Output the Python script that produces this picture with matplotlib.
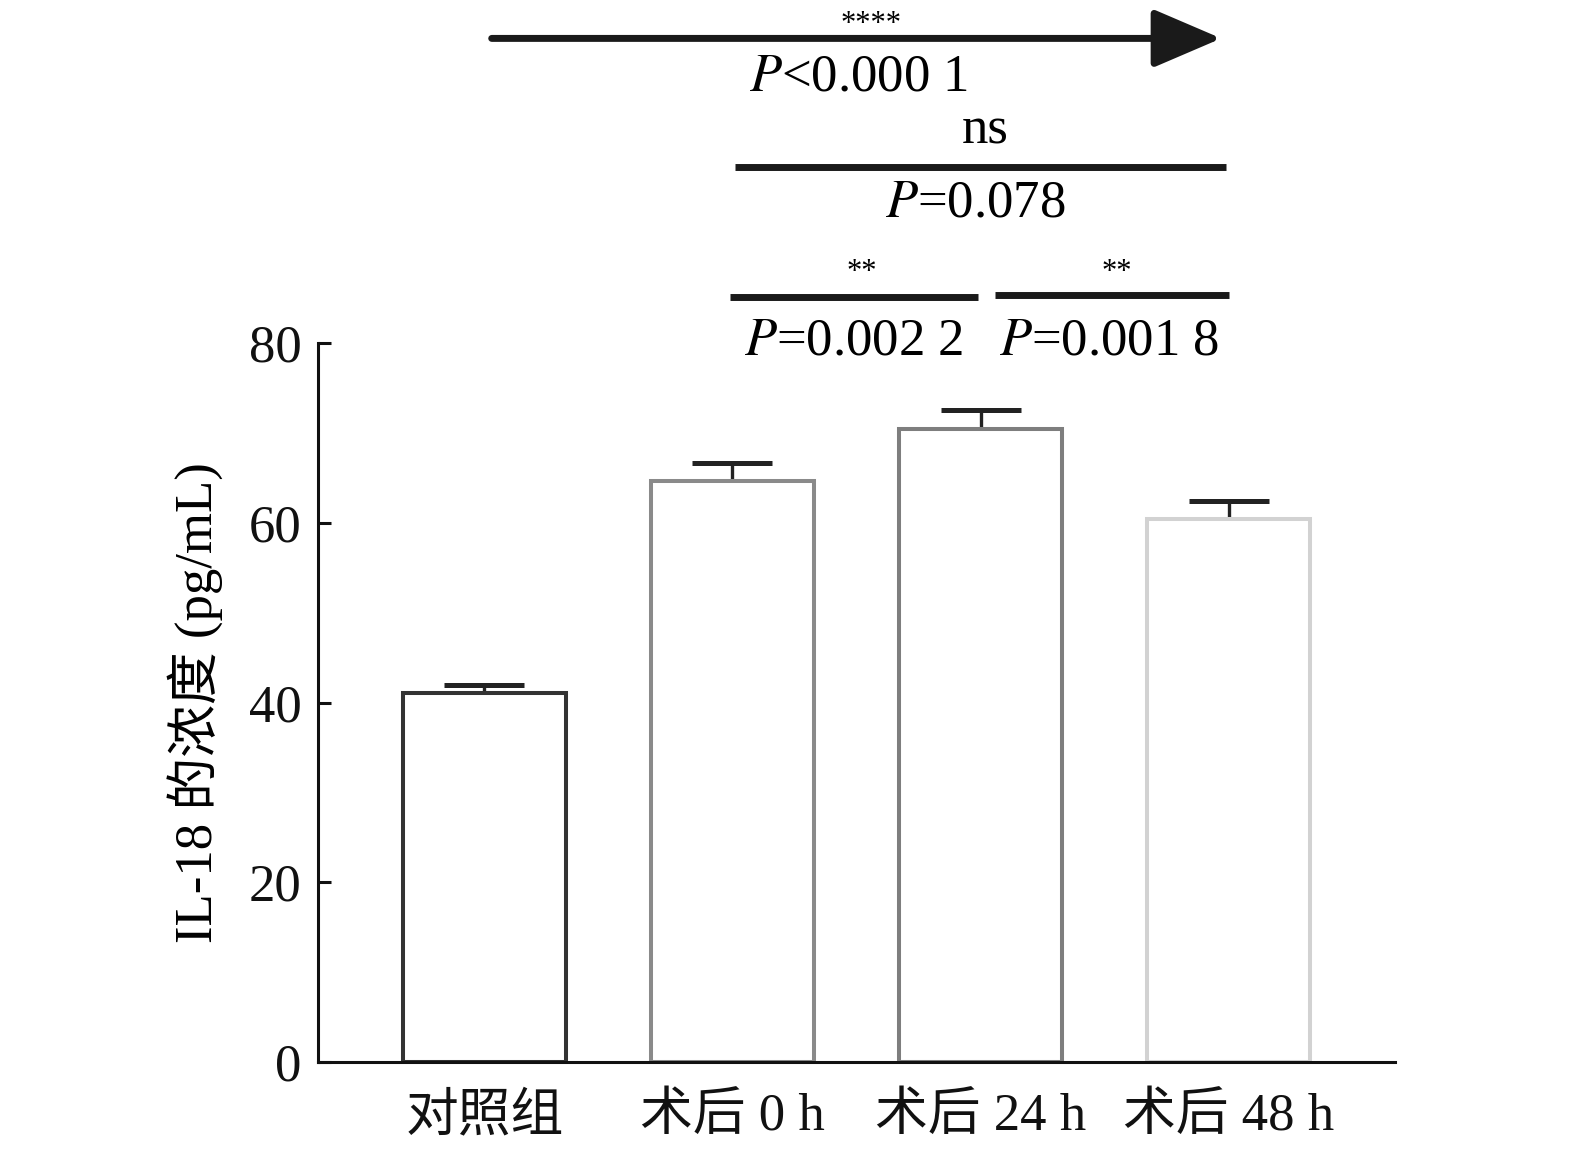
import numpy as np
import matplotlib
matplotlib.use('Agg')
import matplotlib.pyplot as plt
import matplotlib as mpl

# Configurations
mpl.rcParams['font.family'] = ['Liberation Serif', 'Noto Sans CJK SC']
mpl.rcParams['font.size'] = 38
mpl.rcParams['mathtext.fontset'] = 'stix'

###################### data ##################################
groups = ['对照组', '术后 0 h', '术后 24 h', '术后 48 h']
means = [41.1, 64.7, 70.4, 60.4]
sem = [0.8, 1.9, 2.1, 2.0]
edge_colors = ['#333333', '#8a8a8a', '#7e7e7e', '#d2d2d2']
yticks = [0, 20, 40, 60, 80]

# comparisons: (from, to, stars, p label)
comparisons = [
    (0, 3, '****', r'$P$<0.000 1'),
    (1, 3, 'ns', r'$P$=0.078'),
    (1, 2, '**', r'$P$=0.002 2'),
    (2, 3, '**', r'$P$=0.001 8'),
]

###################### plot ##################################
fig = plt.figure(figsize=(15.75, 11.52), dpi=100)
ax = fig.add_axes([0.2019, 0.0781, 0.6838, 0.6241])
x = np.arange(len(groups))

ax.errorbar(x, means, yerr=[np.zeros(len(sem)), sem], fmt='none',
            ecolor='#222222', elinewidth=2.4, capsize=29, capthick=3.6,
            zorder=1)
ax.bar(x, means, width=0.657, color='white', edgecolor=edge_colors,
       linewidth=2.9, zorder=2)

ax.set_xlim(-0.67, 3.67)
ax.set_ylim(0, 80)
ax.set_yticks(yticks)
ax.set_xticks(x)
ax.set_xticklabels(groups)
ax.set_ylabel('IL-18 的浓度 (pg/mL)', labelpad=18)
for s in ['top', 'right']:
    ax.spines[s].set_visible(False)
for s in ['left', 'bottom']:
    ax.spines[s].set_linewidth(2.2)
    ax.spines[s].set_color('#111111')
ax.tick_params(direction='in', length=9, width=2.2, colors='#111111')
ax.tick_params(axis='x', pad=22)
ax.tick_params(axis='y', pad=12)

# significance annotations
lw_bar = 5
c_ann = '#1a1a1a'
star_fs = 22
# arrow, control -> 48 h
i, j, st, pl = comparisons[0]
ax.annotate('', xy=(j - 0.03, 113.9), xytext=(i + 0.03, 113.9),
            arrowprops=dict(arrowstyle='-|>,head_length=1.05,head_width=0.45',
                            mutation_scale=40, lw=lw_bar, color=c_ann,
                            shrinkA=0, shrinkB=0),
            annotation_clip=False)
ax.text(1.56, 115.5, st, ha='center', va='center', fontsize=star_fs)
ax.text(1.51, 109.6, pl, ha='center', va='center')

# 0 h -> 48 h
i, j, st, pl = comparisons[1]
ax.plot([i + 0.01, j - 0.01], [99.6, 99.6], color=c_ann, lw=lw_bar,
        clip_on=False, solid_capstyle='butt')
ax.text(2.02, 103.7, st, ha='center', va='center')
ax.text(1.98, 95.5, pl, ha='center', va='center')

# 0 h -> 24 h
i, j, st, pl = comparisons[2]
ax.plot([i - 0.01, j - 0.01], [85.1, 85.1], color=c_ann, lw=lw_bar,
        clip_on=False, solid_capstyle='butt')
ax.text(1.52, 87.9, st, ha='center', va='center', fontsize=star_fs)
ax.text(1.49, 80.2, pl, ha='center', va='center')

# 24 h -> 48 h
i, j, st, pl = comparisons[3]
ax.plot([i + 0.06, j], [85.3, 85.3], color=c_ann, lw=lw_bar,
        clip_on=False, solid_capstyle='butt')
ax.text(2.55, 87.9, st, ha='center', va='center', fontsize=star_fs)
ax.text(2.52, 80.2, pl, ha='center', va='center')

fig.savefig('out.png', dpi=100)
